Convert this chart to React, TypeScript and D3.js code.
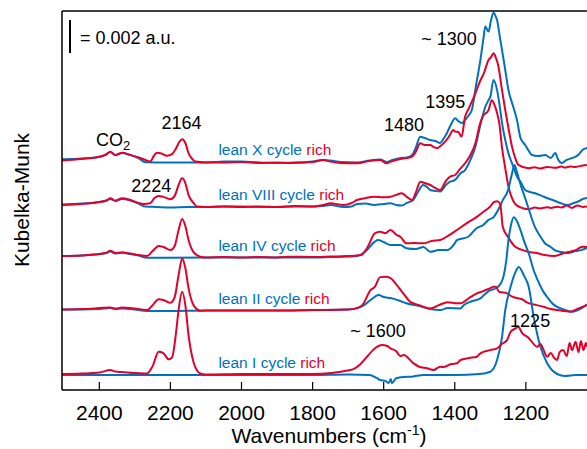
import React from 'react';
import * as d3 from 'd3';

type Pt = [number, number];

// wavenumber (cm-1), Kubelka-Munk in 10^-3 a.u. relative to each cycle's baseline
const xTicks = [2400, 2200, 2000, 1800, 1600, 1400, 1200];
const cycles = ['X', 'VIII', 'IV', 'II', 'I'];
const cycleOffsets = [13.9, 11.17, 8.07, 4.85, 0.97];
const scaleBarValue = 2; // = 0.002 a.u.

const leanX: Pt[] = [
  [2505, 0.1], [2450, 0.15], [2400, 0.24], [2380, 0.39], [2369, 0.55], [2355, 0.36], [2336, 0.48],
  [2313, 0.36], [2290, 0.18], [2270, -0.08], [2240, -0.09], [2200, -0.09], [2150, -0.09], [2100, -0.09],
  [2050, -0.04], [2000, -0.03], [1950, -0.09], [1900, -0.12], [1850, -0.09], [1800, -0.03], [1770, 0.06],
  [1750, 0.03], [1720, -0.06], [1675, -0.09], [1640, 0.03], [1610, 0.09], [1592, -0.06], [1575, 0.06],
  [1553, 0.18], [1535, 0.21], [1520, 0.36], [1510, 0.79], [1497, 1.47], [1485, 1.39], [1469, 1.27],
  [1455, 1.21], [1441, 1.09], [1432, 1.33], [1422, 1.7], [1410, 2.24], [1399, 2.59], [1390, 2.42],
  [1380, 2.3], [1371, 2.48], [1360, 2.79], [1352, 3.09], [1340, 4.61], [1328, 6.12], [1320, 7.33],
  [1314, 8.16], [1305, 7.85], [1298, 8.55], [1291, 8.99], [1284, 8.73], [1281, 8.55], [1274, 7.64],
  [1267, 6.73], [1258, 5.52], [1249, 4.3], [1237, 3.39], [1225, 2.48], [1215, 1.39], [1202, 0.97],
  [1190, 0.55], [1183, 0.36], [1165, 0.3], [1145, 0.36], [1130, 0.18], [1117, 0.48], [1110, 0.12],
  [1099, -0.12], [1085, 0.06], [1070, 0.18], [1060, 0.26], [1050, 0.42], [1041, 0.67], [1028, 0.79],
];
const richX: Pt[] = [
  [2505, 0.03], [2450, 0.12], [2400, 0.26], [2380, 0.42], [2369, 0.56], [2355, 0.36], [2336, 0.5],
  [2313, 0.36], [2290, 0.21], [2275, 0.1], [2257, -0.04], [2245, 0.36], [2238, 0.5], [2225, 0.45],
  [2210, 0.32], [2195, 0.42], [2185, 0.73], [2175, 1.15], [2167, 1.32], [2158, 1.09], [2149, 0.47],
  [2140, 0.15], [2130, -0.04], [2100, -0.09], [2050, -0.09], [2000, -0.06], [1950, -0.12], [1900, -0.09],
  [1863, -0.12], [1800, -0.06], [1770, 0.06], [1750, -0.04], [1720, -0.12], [1675, -0.14], [1640, 0],
  [1610, 0.06], [1592, -0.14], [1575, 0], [1553, 0.12], [1535, 0.18], [1520, 0.26], [1510, 0.55],
  [1497, 1.07], [1485, 0.97], [1469, 0.97], [1460, 0.85], [1450, 0.77], [1440, 0.91], [1427, 1.17],
  [1415, 1.52], [1404, 1.88], [1399, 1.78], [1390, 1.76], [1381, 1.47], [1371, 2.68], [1360, 3.21],
  [1342, 4.1], [1330, 4.79], [1318, 5.33], [1305, 6.12], [1298, 6.3], [1291, 6.53], [1284, 6.24],
  [1277, 5.72], [1268, 4.42], [1258, 3.09], [1248, 1.88], [1239, 0.87], [1230, 0.18], [1221, -0.24],
  [1193, -0.44], [1175, -0.38], [1160, -0.46], [1140, -0.36], [1117, -0.42], [1100, -0.34],
  [1090, -0.4], [1075, -0.33], [1060, -0.36], [1040, -0.27], [1028, -0.24],
];
const leanVIII: Pt[] = [
  [2505, 0.09], [2450, 0.15], [2400, 0.24], [2380, 0.33], [2369, 0.42], [2355, 0.3], [2336, 0.42],
  [2313, 0.33], [2290, 0.15], [2270, -0.04], [2240, -0.06], [2200, -0.09], [2150, -0.06], [2100, -0.06],
  [2050, -0.03], [2000, -0.03], [1950, -0.06], [1900, -0.06], [1850, -0.03], [1800, -0.03], [1770, 0],
  [1750, 0.06], [1713, -0.06], [1690, -0.03], [1675, 0.12], [1650, 0.15], [1628, 0.06], [1600, 0.12],
  [1581, 0.16], [1565, 0.06], [1549, 0.03], [1535, 0.18], [1517, 0.36], [1505, 0.79], [1489, 1.27],
  [1478, 1.15], [1469, 0.97], [1455, 0.91], [1441, 0.87], [1425, 1.27], [1413, 1.47], [1399, 1.58],
  [1384, 1.98], [1371, 2.18], [1356, 2.79], [1342, 3.59], [1328, 4.91], [1314, 6.02], [1305, 6.42],
  [1300, 6.62], [1291, 7.64], [1281, 7.03], [1274, 6.12], [1267, 5.03], [1258, 4.0], [1249, 3.19],
  [1237, 2.48], [1225, 1.78], [1213, 1.39], [1202, 0.97], [1189, 0.85], [1174, 0.77], [1155, 0.61],
  [1137, 0.45], [1117, 0.3], [1100, 0.15], [1081, 0.06], [1065, 0.18], [1050, 0.3], [1040, 0.42],
  [1028, 0.48],
];
const richVIII: Pt[] = [
  [2505, 0.06], [2450, 0.12], [2400, 0.24], [2380, 0.33], [2369, 0.47], [2355, 0.32], [2336, 0.47],
  [2313, 0.36], [2290, 0.18], [2275, 0.12], [2257, 0.16], [2245, 0.48], [2233, 0.61], [2220, 0.55],
  [2200, 0.41], [2188, 0.61], [2177, 1.27], [2167, 1.68], [2158, 1.39], [2149, 0.67], [2135, 0.18],
  [2125, -0.04], [2100, -0.06], [2050, -0.03], [2000, -0.06], [1950, -0.03], [1900, -0.06], [1850, 0],
  [1800, -0.03], [1770, 0.06], [1750, 0.16], [1713, 0.06], [1690, 0.18], [1675, 0.36], [1650, 0.48],
  [1628, 0.56], [1600, 0.52], [1581, 0.56], [1565, 0.67], [1549, 0.77], [1535, 0.55], [1520, 0.36],
  [1510, 0.79], [1497, 1.47], [1485, 1.39], [1469, 1.27], [1455, 1.09], [1441, 0.97], [1425, 1.52],
  [1413, 1.78], [1399, 1.88], [1384, 2.28], [1371, 2.59], [1356, 3.09], [1342, 3.8], [1330, 4.91],
  [1322, 5.41], [1305, 5.82], [1296, 6.42], [1288, 6.12], [1281, 5.64], [1274, 4.91], [1267, 3.52],
  [1258, 2.3], [1249, 1.17], [1239, 0.48], [1230, 0.12], [1215, -0.09], [1192, -0.2], [1175, -0.1],
  [1160, -0.15], [1140, -0.08], [1130, -0.12], [1110, -0.05], [1100, -0.09], [1085, 0.02],
  [1070, -0.12], [1055, 0.03], [1040, -0.06], [1028, -0.03],
];
const leanIV: Pt[] = [
  [2505, 0.06], [2450, 0.09], [2400, 0.18], [2380, 0.24], [2369, 0.33], [2355, 0.21], [2336, 0.27],
  [2313, 0.18], [2290, 0.09], [2266, -0.04], [2200, -0.04], [2100, -0.03], [2000, -0.03], [1900, -0.03],
  [1800, -0.03], [1750, 0], [1700, 0.03], [1675, 0.06], [1650, 0.36], [1625, 0.93], [1616, 1.03],
  [1600, 0.91], [1581, 0.73], [1553, 0.73], [1536, 0.53], [1510, 0.48], [1488, 0.61], [1469, 0.32],
  [1445, 0.42], [1422, 0.42], [1400, 0.83], [1394, 1.03], [1362, 1.23], [1338, 1.76], [1320, 1.94],
  [1306, 2.24], [1290, 2.44], [1278, 2.85], [1265, 3.45], [1250, 4.06], [1240, 4.97], [1232, 5.58],
  [1225, 5.15], [1213, 4.26], [1204, 3.7], [1194, 3.05], [1175, 1.84], [1160, 1.27], [1147, 0.85],
  [1130, 0.61], [1119, 0.42], [1100, 0.3], [1081, 0.24], [1060, 0.36], [1044, 0.42], [1028, 0.55],
];
const richIV: Pt[] = [
  [2505, 0.06], [2450, 0.09], [2400, 0.18], [2380, 0.27], [2369, 0.38], [2355, 0.24], [2336, 0.28],
  [2313, 0.21], [2290, 0.12], [2266, 0.06], [2250, 0.36], [2233, 0.67], [2220, 0.61], [2200, 0.42],
  [2188, 0.67], [2177, 1.64], [2167, 2.3], [2158, 1.88], [2149, 1.03], [2135, 0.3], [2116, 0.02],
  [2100, -0.03], [2050, 0], [2000, -0.03], [1950, 0], [1900, -0.03], [1863, 0.02], [1800, 0],
  [1750, 0.03], [1700, 0.06], [1663, 0.12], [1645, 0.61], [1625, 1.44], [1610, 1.53], [1595, 1.45],
  [1581, 1.64], [1563, 1.33], [1553, 1.23], [1536, 0.83], [1515, 0.85], [1489, 0.83], [1465, 0.97],
  [1441, 1.03], [1420, 1.27], [1394, 1.64], [1370, 2.0], [1338, 2.44], [1320, 2.73], [1301, 3.05],
  [1290, 3.33], [1280, 3.39], [1272, 3.21], [1265, 1.84], [1250, 1.21], [1230, 0.62], [1208, 0.42],
  [1194, 0.32], [1170, 0.24], [1147, 0.12], [1120, 0.06], [1100, 0.18], [1081, 0.3], [1060, 0.42],
  [1041, 0.62], [1028, 0.61],
];
const leanII: Pt[] = [
  [2505, 0.03], [2450, 0.03], [2400, 0.06], [2369, 0.12], [2355, 0.06], [2336, 0.09], [2300, 0.03],
  [2266, -0.06], [2200, -0.06], [2100, -0.03], [2000, -0.03], [1900, -0.03], [1800, 0], [1700, 0.03],
  [1675, 0.12], [1660, 0.24], [1637, 0.61], [1614, 0.91], [1600, 0.79], [1581, 0.73], [1553, 0.55],
  [1536, 0.41], [1500, 0.24], [1469, 0.06], [1441, 0], [1420, 0.12], [1384, 0.1], [1375, 0.3],
  [1350, 0.55], [1328, 0.71], [1318, 0.91], [1300, 1.21], [1285, 1.31], [1270, 1.64], [1262, 2.12],
  [1255, 3.03], [1249, 4.24], [1242, 5.15], [1234, 5.64], [1225, 5.39], [1215, 4.85], [1204, 4.12],
  [1192, 3.45], [1178, 2.42], [1168, 1.88], [1150, 1.09], [1140, 0.79], [1120, 0.3], [1112, 0.2],
  [1088, 0], [1070, -0.1], [1044, 0.1], [1028, 0.36],
];
const richII: Pt[] = [
  [2505, 0.03], [2450, 0.06], [2400, 0.12], [2369, 0.16], [2355, 0.09], [2336, 0.15], [2300, 0.09],
  [2266, 0], [2250, 0.3], [2233, 0.65], [2220, 0.61], [2200, 0.44], [2188, 0.79], [2177, 2.12],
  [2167, 3.13], [2158, 2.55], [2149, 1.33], [2135, 0.3], [2116, -0.04], [2100, -0.03], [2000, -0.03],
  [1900, -0.03], [1800, 0], [1700, 0.03], [1675, 0.12], [1660, 0.3], [1637, 1.21], [1625, 1.41],
  [1610, 2.0], [1595, 2.02], [1581, 1.94], [1563, 1.52], [1545, 1.01], [1525, 0.5], [1500, 0.3],
  [1469, 0.1], [1445, 0.3], [1420, 0.48], [1394, 0.41], [1384, 0.41], [1360, 0.73], [1338, 1.01],
  [1320, 1.15], [1300, 1.33], [1291, 1.41], [1285, 1.41], [1275, 1.11], [1253, 1.01], [1238, 0.81],
  [1206, 0.61], [1200, 0.5], [1170, 0.3], [1150, 0.2], [1130, 0.06], [1112, 0], [1090, -0.06],
  [1076, -0.1], [1050, 0.12], [1028, 0.3],
];
const leanI: Pt[] = [
  [2505, -0.06], [2400, -0.06], [2300, -0.06], [2200, -0.06], [2100, -0.06], [2000, -0.06],
  [1900, -0.06], [1800, -0.06], [1700, -0.03], [1640, -0.06], [1620, -0.24], [1610, -0.36],
  [1595, -0.42], [1586, -0.55], [1580, -0.3], [1577, -0.56], [1565, -0.26], [1545, -0.18],
  [1520, -0.16], [1488, -0.06], [1400, -0.06], [1330, 0], [1300, 0.14], [1281, 0.85], [1267, 2.26],
  [1258, 3.88], [1243, 5.29], [1229, 6.2], [1220, 6.5], [1206, 6.0], [1192, 5.29], [1178, 3.47],
  [1159, 1.65], [1140, 0.65], [1112, 0], [1090, -0.12], [1060, -0.06], [1028, -0.06],
];
const richI: Pt[] = [
  [2505, 0], [2450, 0.03], [2400, 0.09], [2369, 0.24], [2355, 0.15], [2336, 0.12], [2300, 0.06],
  [2266, 0.03], [2250, 0.48], [2233, 1.35], [2220, 1.27], [2205, 0.89], [2195, 1.03], [2185, 2.36],
  [2177, 3.88], [2167, 4.99], [2158, 4.18], [2149, 2.36], [2135, 0.73], [2116, 0.03], [2100, -0.03],
  [2000, 0], [1900, 0], [1800, 0], [1694, 0.24], [1665, 0.61], [1647, 1.05], [1630, 1.45],
  [1619, 1.65], [1605, 1.76], [1590, 1.7], [1581, 1.56], [1565, 1.39], [1553, 1.09], [1544, 1.15],
  [1516, 0.65], [1500, 0.44], [1478, 0.35], [1460, 0.24], [1441, 0.44], [1431, 0.42], [1410, 0.61],
  [1394, 0.65], [1384, 0.85], [1360, 0.97], [1338, 1.05], [1328, 1.25], [1300, 1.45], [1281, 1.56],
  [1268, 1.82], [1253, 2.06], [1243, 2.56], [1229, 2.77], [1222, 2.87], [1210, 2.47], [1195, 2.24],
  [1187, 2.06], [1168, 1.65], [1159, 1.82], [1150, 1.45], [1140, 1.05], [1130, 1.27], [1120, 0.97],
  [1112, 0.85], [1105, 1.33], [1095, 1.45], [1085, 1.09], [1077, 1.88], [1070, 1.45], [1060, 1.96],
  [1052, 1.33], [1045, 2.0], [1038, 1.45], [1031, 1.88], [1028, 1.65],
];

const leanSeries = [leanX, leanVIII, leanIV, leanII, leanI];
const richSeries = [richX, richVIII, richIV, richII, richI];

// [text, wavenumber, K-M value] for the band labels
const annotations: [string, number, number][] = [
  ['2164', 2169, 15.82],
  ['2224', 2254, 12.0],
  ['~ 1300', 1416, 20.94],
  ['1395', 1427, 17.1],
  ['1480', 1543, 15.74],
  ['~ 1600', 1616, 3.23],
  ['1225', 1188, 3.81],
];

const BLUE = '#0072bd';
const RED = '#e3002b';
const FONT = '"Liberation Sans", Arial, Helvetica, sans-serif';

const W = 587;
const H = 449;
const margin = { top: 11, right: 0, bottom: 59, left: 62 };

const App: React.FC = () => {
  const x = d3.scaleLinear().domain([2505, 1028]).range([margin.left, W - margin.right]);
  const y = d3.scaleLinear().domain([0, 23]).range([H - margin.bottom, margin.top]);
  const bottom = H - margin.bottom;

  const lineFor = (offset: number) =>
    d3.line<Pt>()
      .curve(d3.curveMonotoneX)
      .x(d => x(d[0]))
      .y(d => y(d[1] + offset));

  return (
    <svg width={W} height={H} style={{ position: 'absolute', left: 0, top: 0 }} fontFamily={FONT}>
      <defs>
        <clipPath id="plot-clip">
          <rect x={margin.left} y={margin.top} width={W - margin.left + 20} height={bottom - margin.top} />
        </clipPath>
      </defs>

      <g clipPath="url(#plot-clip)">
        {cycles.map((c, i) => (
          <g key={c}>
            <path d={lineFor(cycleOffsets[i])(leanSeries[i]) || ''} fill="none" stroke={BLUE} strokeWidth={2} strokeLinejoin="round" />
            <path d={lineFor(cycleOffsets[i])(richSeries[i]) || ''} fill="none" stroke={RED} strokeWidth={2} strokeLinejoin="round" />
          </g>
        ))}
      </g>

      {/* frame */}
      <line x1={margin.left} x2={W + 5} y1={margin.top} y2={margin.top} stroke="#000" strokeWidth={1.5} />
      <line x1={margin.left} x2={W + 5} y1={bottom} y2={bottom} stroke="#000" strokeWidth={1.5} />
      <line x1={margin.left} x2={margin.left} y1={margin.top} y2={bottom} stroke="#000" strokeWidth={1.5} />

      {xTicks.map(t => (
        <g key={t}>
          <line x1={x(t)} x2={x(t)} y1={bottom} y2={bottom - 8} stroke="#000" strokeWidth={1.2} />
          <text x={x(t)} y={bottom + 30} textAnchor="middle" fontSize={21}>{t}</text>
        </g>
      ))}

      <text x={329} y={443} textAnchor="middle" fontSize={21}>
        Wavenumbers (cm<tspan fontSize={14} dy={-8}>-1</tspan><tspan dy={8}>)</tspan>
      </text>
      <text transform="translate(29,200) rotate(-90)" textAnchor="middle" fontSize={21}>Kubelka-Munk</text>

      {/* scale bar */}
      <line x1={70} x2={70} y1={y(20.45)} y2={y(20.45 + scaleBarValue)} stroke="#000" strokeWidth={2} />
      <text x={80} y={44} fontSize={18}>= 0.002 a.u.</text>

      {/* series labels */}
      {cycles.map((c, i) => (
        <text key={c} x={x(2065)} y={y(cycleOffsets[i]) - 6} fontSize={15.5} fill={BLUE}>
          lean {c} cycle <tspan fill={RED}>rich</tspan>
        </text>
      ))}

      {/* band annotations */}
      <text x={x(2409)} y={y(14.81)} fontSize={18}>
        CO<tspan fontSize={13} dy={4}>2</tspan>
      </text>
      {annotations.map(([t, wn, v]) => (
        <text key={t} x={x(wn)} y={y(v)} textAnchor="middle" fontSize={18}>{t}</text>
      ))}
    </svg>
  );
};

export default App;
